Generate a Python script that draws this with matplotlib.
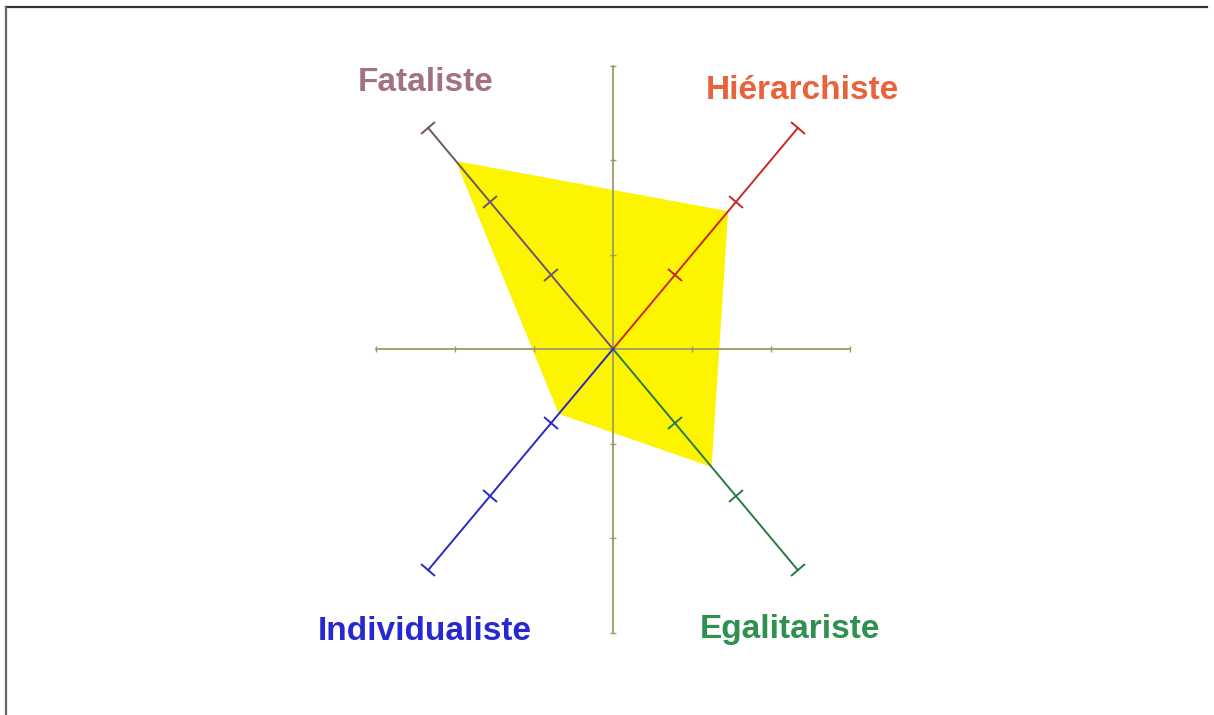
import numpy as np
import matplotlib
matplotlib.use("Agg")
import matplotlib.pyplot as plt
from matplotlib.markers import MarkerStyle
from matplotlib.transforms import Affine2D
from matplotlib.lines import Line2D

# the four profiles and their scores (0..3 along each diagonal)
profiles = ["Fataliste", "Hiérarchiste", "Egalitariste", "Individualiste"]
scores = [2.55, 1.87, 1.6, 0.88]
directions = [(-1, 1), (1, 1), (1, -1), (-1, -1)]
axis_colors = ["#6e5670", "#c82828", "#2a7a40", "#2a2ac0"]
label_colors = ["#a07282", "#e8623c", "#2f9050", "#2828d0"]
label_pos = [(-2.37, 2.82), (2.40, 2.74), (2.24, -2.97), (-2.38, -2.99)]

diag_step = 0.78          # one diagonal unit in x and y
ticks = [1, 2, 3]
axis_max = 3

fig = plt.figure(figsize=(12.14, 7.15), dpi=100)
ax = fig.add_axes([0, 0, 1, 1])
ax.set_xlim(-613 / 79, (1214 - 613) / 79)
ax.set_ylim(-366 / 94.5, 349 / 94.5)
ax.axis("off")

# yellow score polygon
px = [s * diag_step * d[0] for s, d in zip(scores, directions)]
py = [s * diag_step * d[1] for s, d in zip(scores, directions)]
ax.fill(px, py, color="#fcf400", lw=0, zorder=1)

# plain cross axes
cross_col = "#9c9c62"
ax.plot([-axis_max, axis_max], [0, 0], color=cross_col, lw=1.3, zorder=2)
ax.plot([0, 0], [-axis_max, axis_max], color=cross_col, lw=1.3, zorder=2)
tk = [-3, -2, -1, 1, 2, 3]
ax.plot(tk, [0] * len(tk), ls="none", marker="|", ms=5, mew=1, color=cross_col, zorder=2)
ax.plot([0] * len(tk), tk, ls="none", marker="_", ms=5, mew=1, color=cross_col, zorder=2)

# diagonal axes with perpendicular ticks
for name, d, col, lcol, lp in zip(profiles, directions, axis_colors, label_colors, label_pos):
    ax.plot([0, axis_max * diag_step * d[0]], [0, axis_max * diag_step * d[1]],
            color=col, lw=1.4, zorder=3)
    ang = np.degrees(np.arctan2(d[1] * 94.5, d[0] * 79)) + 90
    m = MarkerStyle("_", transform=Affine2D().rotate_deg(ang))
    tx = [t * diag_step * d[0] for t in ticks]
    ty = [t * diag_step * d[1] for t in ticks]
    ax.plot(tx, ty, ls="none", marker=m, ms=14, mew=1.4, color=col, zorder=3)
    ax.text(lp[0], lp[1], name, color=lcol, fontsize=24, fontweight="bold",
            family=["Liberation Sans", "DejaVu Sans"],
            ha="center", va="center", zorder=4)

# frame lines at top and left
fig.add_artist(Line2D([6 / 1214, 1207 / 1214], [1 - 7 / 715, 1 - 7 / 715],
                      transform=fig.transFigure, color="#333333", lw=1.6))
fig.add_artist(Line2D([6 / 1214, 6 / 1214], [0, 1 - 7 / 715],
                      transform=fig.transFigure, color="#666666", lw=1.6))

fig.savefig("out.png", dpi=100)
